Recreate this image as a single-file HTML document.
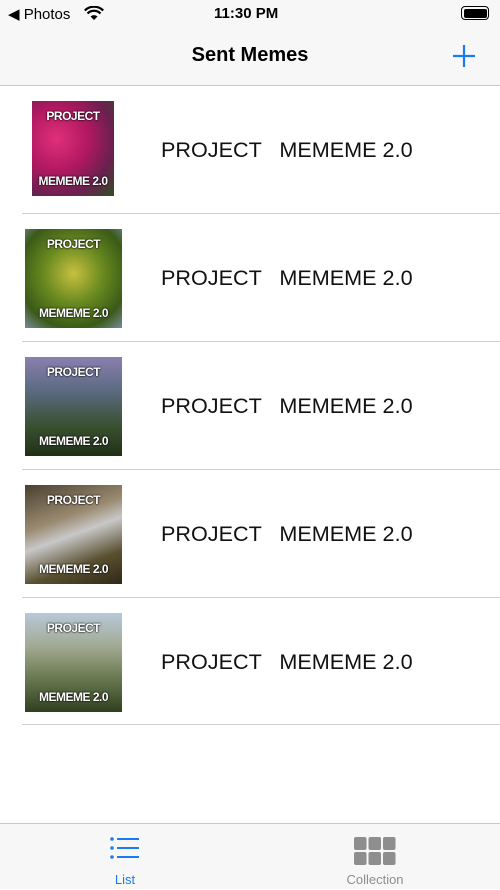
<!DOCTYPE html>
<html><head><meta charset="utf-8">
<style>
*{margin:0;padding:0;box-sizing:border-box}
body{width:500px;height:889px;background:#fff;font-family:"Liberation Sans",sans-serif;position:relative;overflow:hidden}
.abs{position:absolute}
.status{top:0;left:0;width:500px;height:28px;background:#f7f7f7;font-size:15px;color:#000}
.nav{top:28px;left:0;width:500px;height:58px;background:#f7f7f7;border-bottom:1px solid #c8c8c8}
.row{left:0;width:500px;height:128px}
.sep{left:22px;right:0;height:1px;background:#d0d0d0}
.thumb{overflow:hidden;color:#fff;font-family:"Liberation Sans",sans-serif;font-weight:bold;font-size:12px;text-align:center;text-shadow:0 0 2px #000,0 0 1px #000;letter-spacing:-0.5px}
.thumb span{position:absolute;left:0;right:0}
.title{left:161px;font-size:21.6px;color:#111;white-space:pre}
.tab{top:823px;left:0;width:500px;height:66px;background:#f7f7f7;border-top:1px solid #c8c8c8}
</style></head><body>
<div class="abs status">
<span class="abs" style="left:8px;top:5px">◀ Photos</span>
<svg class="abs" style="left:84px;top:6px" width="20" height="15"><path d="M10 14 L6.5 10.5 A5 5 0 0 1 13.5 10.5Z" fill="#000"/><path d="M3.5 7.5 A9 9 0 0 1 16.5 7.5" stroke="#000" stroke-width="2.2" fill="none"/><path d="M0.8 4.5 A13 13 0 0 1 19.2 4.5" stroke="#000" stroke-width="2.2" fill="none"/></svg>
<span class="abs" style="left:214px;top:5px;font-weight:bold">11:30 PM</span>
<div class="abs" style="left:461px;top:6px;width:28px;height:14px;border:1.5px solid #000;border-radius:4px;padding:1.5px"><div style="width:100%;height:100%;background:#000;border-radius:2px"></div></div>
</div>
<div class="abs nav">
<div class="abs" style="left:0;width:500px;top:16px;text-align:center;font-size:20px;font-weight:bold">Sent Memes</div>
<svg class="abs" style="left:452px;top:16px" width="24" height="24"><path d="M12 1V23M1 12H23" stroke="#1a7cf5" stroke-width="2.2"/></svg>
</div>

<div class="abs row" style="top:86px">
<div class="abs thumb" style="left:32px;top:15px;width:82px;height:95px;background:radial-gradient(circle at 30% 40%,#e0307a,#b01860 40%,#6a2050 70%,#305020)"><span style="top:8px">PROJECT</span><span style="bottom:8px">MEMEME 2.0</span></div>
<div class="abs title" style="top:51px">PROJECT   MEMEME 2.0</div></div>
<div class="abs sep" style="top:213px"></div>

<div class="abs row" style="top:214px">
<div class="abs thumb" style="left:25px;top:15px;width:97px;height:99px;background:radial-gradient(circle at 50% 45%,#c8c040,#6a8a20 40%,#3a5a18 75%,#7a8a9a)"><span style="top:8px">PROJECT</span><span style="bottom:8px">MEMEME 2.0</span></div>
<div class="abs title" style="top:51px">PROJECT   MEMEME 2.0</div></div>
<div class="abs sep" style="top:341px"></div>

<div class="abs row" style="top:342px">
<div class="abs thumb" style="left:25px;top:15px;width:97px;height:99px;background:linear-gradient(180deg,#8a80b0,#5a6a80 35%,#3a5030 70%,#203018)"><span style="top:8px">PROJECT</span><span style="bottom:8px">MEMEME 2.0</span></div>
<div class="abs title" style="top:51px">PROJECT   MEMEME 2.0</div></div>
<div class="abs sep" style="top:469px"></div>

<div class="abs row" style="top:470px">
<div class="abs thumb" style="left:25px;top:15px;width:97px;height:99px;background:linear-gradient(160deg,#4a4030,#9a8a70 35%,#c8c8c8 50%,#5a5030 75%,#302818)"><span style="top:8px">PROJECT</span><span style="bottom:8px">MEMEME 2.0</span></div>
<div class="abs title" style="top:51px">PROJECT   MEMEME 2.0</div></div>
<div class="abs sep" style="top:597px"></div>

<div class="abs row" style="top:598px">
<div class="abs thumb" style="left:25px;top:15px;width:97px;height:99px;background:linear-gradient(180deg,#b8c8d8,#a0a890 35%,#6a7a50 65%,#304020)"><span style="top:8px">PROJECT</span><span style="bottom:8px">MEMEME 2.0</span></div>
<div class="abs title" style="top:51px">PROJECT   MEMEME 2.0</div></div>
<div class="abs sep" style="top:724px"></div>

<div class="abs tab">
<div class="abs" style="left:75px;top:0;width:100px;height:66px">
<svg class="abs" style="left:35px;top:12px" width="30" height="24"><g fill="#1a7cf5"><circle cx="2" cy="3" r="1.8"/><circle cx="2" cy="12" r="1.8"/><circle cx="2" cy="21" r="1.8"/><rect x="7" y="2" width="22" height="2"/><rect x="7" y="11" width="22" height="2"/><rect x="7" y="20" width="22" height="2"/></g></svg>
<div class="abs" style="left:0;width:100px;top:48px;text-align:center;font-size:13px;color:#1a7cf5">List</div></div>
<div class="abs" style="left:325px;top:0;width:100px;height:66px">
<svg class="abs" style="left:29px;top:13px" width="42" height="29"><g fill="#8e8e8e"><rect x="0" y="0" width="12.5" height="13" rx="2"/><rect x="14.5" y="0" width="12.5" height="13" rx="2"/><rect x="29" y="0" width="12.5" height="13" rx="2"/><rect x="0" y="15" width="12.5" height="13" rx="2"/><rect x="14.5" y="15" width="12.5" height="13" rx="2"/><rect x="29" y="15" width="12.5" height="13" rx="2"/></g></svg>
<div class="abs" style="left:0;width:100px;top:48px;text-align:center;font-size:13px;color:#8e8e8e">Collection</div></div>
</div>
</body></html>
